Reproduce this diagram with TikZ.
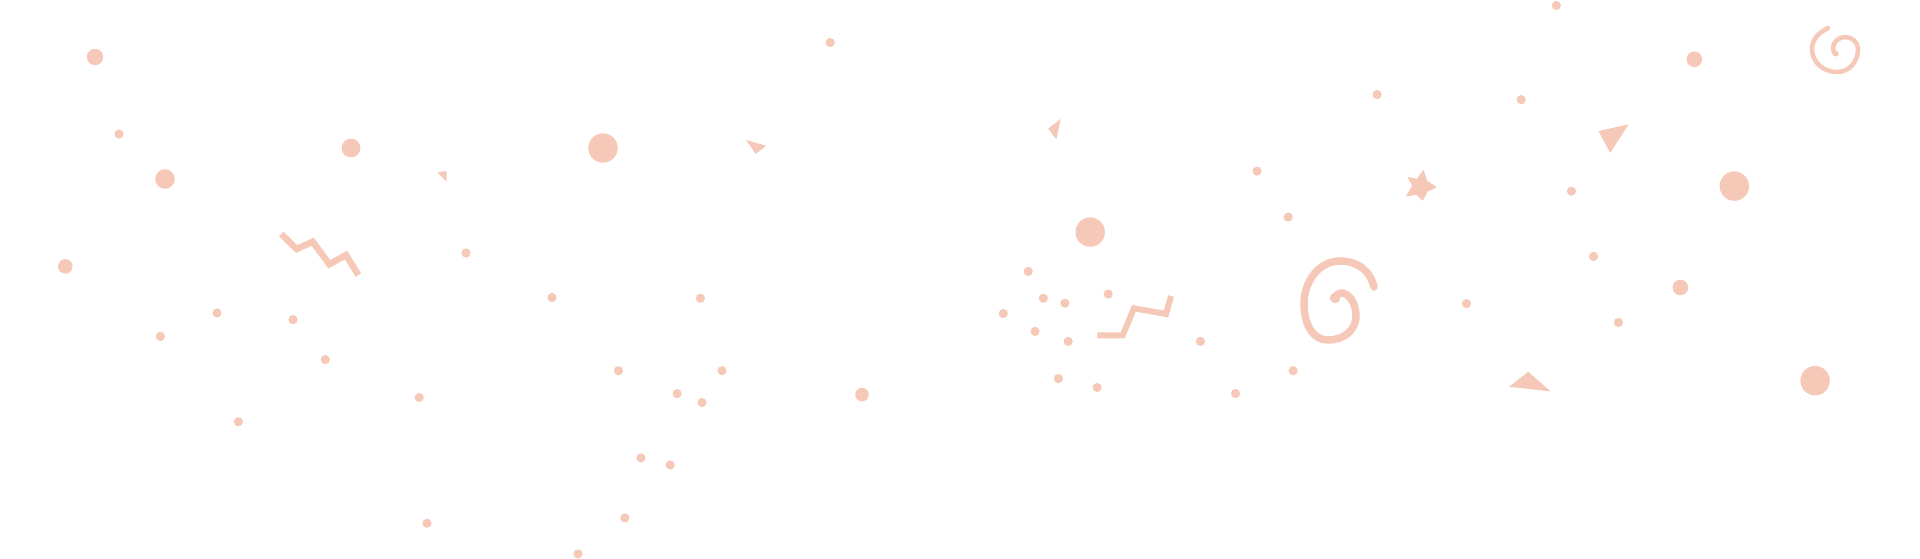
\documentclass[tikz,border=0pt]{standalone}
\definecolor{peach}{RGB}{246,200,183}
\begin{document}
\begin{tikzpicture}[x=1pt,y=-1pt,
  sdot/.style={fill=peach},
  zig/.style={draw=peach,line width=6.5pt,line cap=butt,line join=miter},
  curl/.style={draw=peach,line cap=round,line join=round},
  tri/.style={fill=peach}]
\useasboundingbox (0,0) rectangle (1920,558);
% small dots
\foreach \x/\y in {119/134,466/253,552/297.5,217/313,293/319.6,160.4/336.4,325.3/359.6,618.4/370.7,419.2/397.5,238.4/421.8,641/457.9,427/523.2,624.9/517.9,578/553.9,
830.2/42.5,1257.1/171.1,1028.2/271.4,1043.3/298.2,1064.9/303.2,1108.2/294,1003.3/313.6,1035.1/331.4,1068.2/341.4,1200.4/341.4,1058.4/378.6,1097.1/387.5,1235.5/393.6,722/370.7,700.4/298.2,677.1/393.6,702/402.5,670.2/465,
1556.3/5.4,1377.1/94.6,1521.2/99.6,1571.4/191.1,1288.2/217.1,1593.5/256.4,1466.5/303.6,1618.4/322.5,1293.1/370.7}
  \fill[sdot] (\x,\y) circle (4.6pt);
% medium and large dots
\foreach \x/\y/\r in {95/57/8.2,351/148/9.4,165/179/9.8,65.3/266.4/7.3,862/394.6/6.8,1694.3/59.3/7.8,1680.4/287.5/7.8,
603/148/14.7,1090.2/232.1/14.7,1734.3/186.1/14.7,1815.1/380.7/14.7}
  \fill[sdot] (\x,\y) circle (\r pt);
% triangles
\fill[tri] (437.6,172.5) -- (446.5,171) -- (446.5,182) -- cycle;
\fill[tri] (746.1,140) -- (766.1,145.7) -- (755.9,153.9) -- cycle;
\fill[tri] (1060.8,118.9) -- (1048.2,128.6) -- (1056.3,139.3) -- cycle;
\fill[tri] (1598.4,131.1) -- (1628.6,124.3) -- (1610.2,152.9) -- cycle;
\fill[tri] (1509,386.8) -- (1528.2,371.8) -- (1550.6,391.4) -- cycle;
% star
\fill[tri,draw=peach,line width=1pt,line join=round] (1423.3,170.7) -- (1426.7,181) -- (1436,187.3) -- (1427.3,191) -- (1422.7,200) -- (1416.7,194.3) -- (1406.7,195.7) -- (1412.7,185.7) -- (1408.3,177.7) -- (1417.3,179.3) -- cycle;
% zigzags
\draw[zig] (281.3,234) -- (296.7,249) -- (312.7,241.7) -- (329.3,264.3) -- (346,255) -- (358.3,275);
\draw[zig,line width=6pt] (1097.3,335.3) -- (1122.7,335.3) -- (1134,308.3) -- (1166,314) -- (1171,296);
% big spiral
\draw[curl,line width=7.5pt] (1374,287) .. controls (1370,270) and (1357,261) .. (1340,261)
  .. controls (1318,261) and (1304,283) .. (1304,303)
  .. controls (1304,325) and (1313,340) .. (1328,340)
  .. controls (1344,340) and (1356,330) .. (1356,316)
  .. controls (1356,303) and (1349,293) .. (1341,293)
  .. controls (1338,293) and (1336,295) .. (1335,298);
\fill[sdot] (1335,298) circle (5.2pt);
% small spiral
\draw[curl,line width=4.5pt] (1828,28) .. controls (1818,33) and (1812,40) .. (1812,49)
  .. controls (1812,62) and (1823,72) .. (1837,72)
  .. controls (1849,72) and (1858,62) .. (1858,49)
  .. controls (1858,42) and (1852,37) .. (1845,37)
  .. controls (1839,37) and (1833,42) .. (1833,48)
  .. controls (1833,51) and (1834,53) .. (1836,54);
\fill[sdot] (1835.5,53.5) circle (3pt);
\end{tikzpicture}
\end{document}
